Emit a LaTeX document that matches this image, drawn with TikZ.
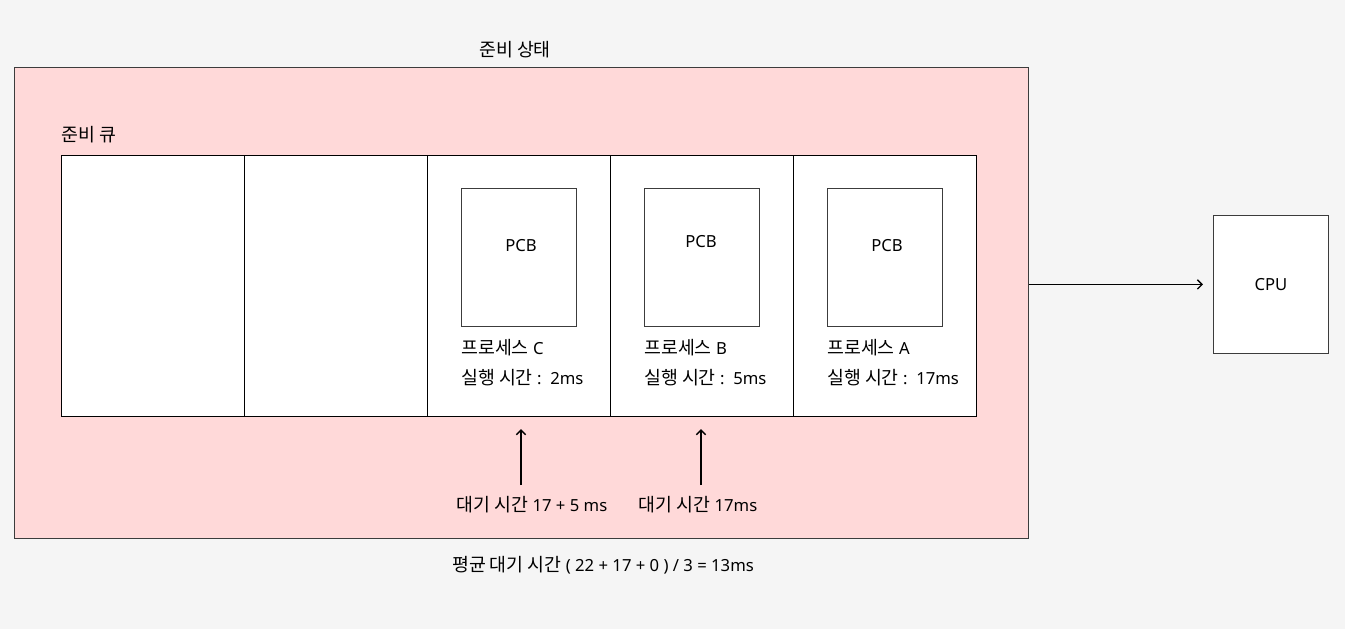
\documentclass[tikz,border=0pt]{standalone}
\usepackage{fontspec}
\setmainfont{Noto Sans}
\newfontfamily\krfont{Noto Sans CJK KR}[Scale=1.1]
\usetikzlibrary{positioning,calc,arrows.meta}

\begin{document}
\begin{tikzpicture}[x=0.75pt,y=-0.75pt]
	\definecolor{bgpaper}{RGB}{245,245,245}
	\definecolor{rqpink}{RGB}{255,217,217}
	\definecolor{bdgray}{RGB}{60,60,60}
	\tikzset{
		lbl/.style={
			inner sep=0pt, font=\fontsize{12.5}{14}\selectfont
		},
		cell/.style={
			draw=black, fill=white, line width=0.9pt,
			minimum width=137.25pt, minimum height=195.75pt,
			inner sep=0pt, anchor=north west
		},
		pcb/.style={
			draw=bdgray, fill=white, line width=0.6pt,
			minimum width=86.25pt, minimum height=103.5pt,
			inner sep=0pt, anchor=north west
		},
		flow/.style={
			-{Straight Barb[length=3.5pt,width=7pt]},
			draw=black, line width=1pt
		}
	}

	% ======= background and ready state =======
	\fill[bgpaper] (0,0) rectangle (1345,629);
	\useasboundingbox (0,0) rectangle (1345,629);
	\node[draw=bdgray, fill=rqpink, line width=0.6pt, inner sep=0pt,
		minimum width=760.5pt, minimum height=353.25pt, anchor=north west]
		(ready) at (14,67) {};
	\node[lbl] (readyT) at (515,50) {\krfont 준비 상태};

	% ======= ready queue =======
	\node[lbl, anchor=west] (queueT) at (61,135) {\krfont 준비 큐};
	\node[cell] (q1) at (61,155) {};
	\node[cell] (q2) at (244,155) {};
	\node[cell] (q3) at (427,155) {};
	\node[cell] (q4) at (610,155) {};
	\node[cell] (q5) at (793,155) {};

	% ======= PCBs =======
	\node[pcb] (pcbC) at (461,188) {};
	\node[pcb] (pcbB) at (644,188) {};
	\node[pcb] (pcbA) at (827,188) {};
	\node[lbl] at (521,246) {PCB};
	\node[lbl] at (701,242) {PCB};
	\node[lbl] at (887,246) {PCB};

	\node[lbl, anchor=west] (nameC) at (461,348) {{\krfont 프로세스} C};
	\node[lbl, anchor=west] (runC)  at (461,378) {{\krfont 실행 시간} :\ \ 2ms};
	\node[lbl, anchor=west] (nameB) at (644,348) {{\krfont 프로세스} B};
	\node[lbl, anchor=west] (runB)  at (644,378) {{\krfont 실행 시간} :\ \ 5ms};
	\node[lbl, anchor=west] (nameA) at (827,348) {{\krfont 프로세스} A};
	\node[lbl, anchor=west] (runA)  at (827,378) {{\krfont 실행 시간} :\ \ 17ms};

	% ======= waiting times =======
	\node[lbl] (waitC) at (532,505) {{\krfont 대기 시간} 17 + 5 ms};
	\node[lbl] (waitB) at (698,505) {{\krfont 대기 시간} 17ms};
	\coordinate (wc) at (521,485);
	\coordinate (wb) at (701,485);
	\draw[flow, shorten >=9pt] (wc) -- (wc |- q3.south);
	\draw[flow, shorten >=9pt] (wb) -- (wb |- q4.south);

	\node[lbl] (avg) at (603,565) {{\krfont 평균 대기 시간} ( 22 + 17 + 0 ) / 3 = 13ms};

	% ======= CPU =======
	\node[pcb] (cpu) at (1213,215) {};
	\node[lbl] at (1271,285) {CPU};
	\draw[flow, shorten >=7.5pt] (ready.east |- cpu.west) -- (cpu.west);
\end{tikzpicture}
\end{document}
